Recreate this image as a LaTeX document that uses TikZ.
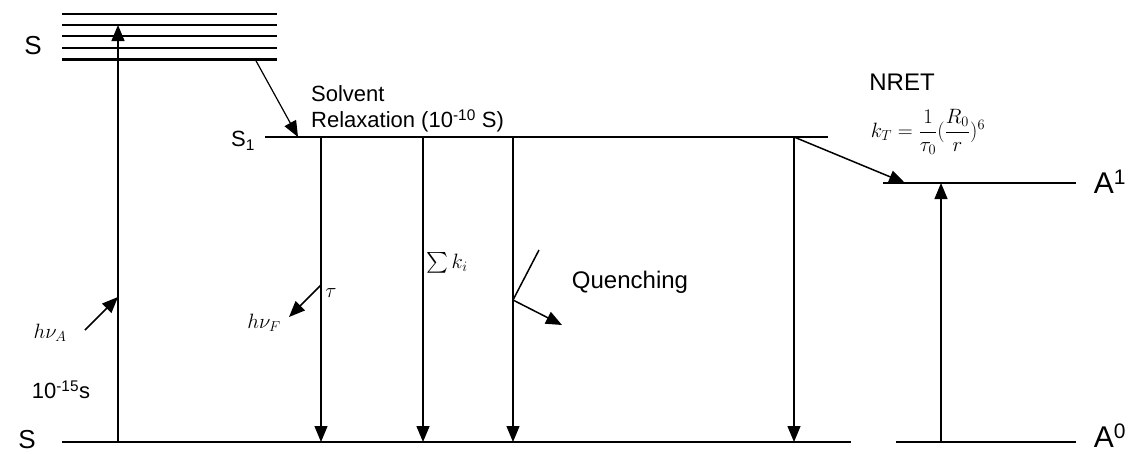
\documentclass[tikz,border=0pt]{standalone}
\usepackage{amsmath}
\usepackage{fontspec}
\setmainfont{Liberation Sans}
\usetikzlibrary{arrows.meta}
\begin{document}
\begin{tikzpicture}[x=1pt,y=-1pt,
  level/.style={line width=1.8pt},
  toplevel/.style={line width=3pt},
  arr/.style={line width=1.5pt,-{Triangle[length=16pt,width=13pt]}},
  thinarr/.style={line width=1.2pt,-{Triangle[length=16pt,width=13pt]}},
  lbl/.style={inner sep=0pt,font=\fontsize{22}{26}\selectfont},
  slbl/.style={inner sep=0pt,font=\fontsize{26}{30}\selectfont},
  biglbl/.style={inner sep=0pt,font=\fontsize{30}{34}\selectfont},
  txt/.style={inner sep=0pt,font=\fontsize{24}{28}\selectfont},
  mth/.style={inner sep=0pt,font=\fontsize{22}{26}\selectfont}]
\useasboundingbox (0,0) rectangle (1134,453);
% upper S levels
\foreach \y/\n in {14/a,25/b,36/c,48/d}{
  \coordinate (u\n L) at (62,\y); \coordinate (u\n R) at (277,\y);
  \draw[level] (u\n L) -- (u\n R);}
\coordinate (ueL) at (62,59); \coordinate (ueR) at (277,59);
\draw[toplevel] (ueL) -- (ueR);
% S1
\coordinate (s1L) at (265,137); \coordinate (s1R) at (828,137);
\draw[level] (s1L) -- (s1R);
% ground
\coordinate (gL) at (62,442); \coordinate (gR) at (851,442);
\draw[level] (gL) -- (gR);
% A1 and A0
\coordinate (a1L) at (883,183); \coordinate (a1R) at (1076,183);
\draw[level] (a1L) -- (a1R);
\coordinate (a0L) at (896,442); \coordinate (a0R) at (1076,442);
\draw[level] (a0L) -- (a0R);
% excitation
\coordinate (exB) at (118,442); \coordinate (exT) at (118,25);
\draw[arr] (exB) -- (exT);
\coordinate (hvaS) at (85,330); \coordinate (hvaE) at (118,297);
\draw[arr] (hvaS) -- (hvaE);
% solvent relaxation
\coordinate (srS) at (255,59); \coordinate (srE) at (298,137);
\draw[thinarr] (srS) -- (srE);
% decays
\foreach \x/\n in {321/f,423/k,513/q,794/n}{
  \coordinate (d\n T) at (\x,137); \coordinate (d\n B) at (\x,442);}
\draw[thinarr] (dfT) -- (dfB);
\draw[arr] (dkT) -- (dkB);
\draw[thinarr] (dqT) -- (dqB);
\draw[thinarr] (dnT) -- (dnB);
% fluorescence photon
\coordinate (tauP) at (321,285); \coordinate (hvfE) at (289,317);
\draw[arr] (tauP) -- (hvfE);
% quenching
\coordinate (qA) at (539,250); \coordinate (qB) at (513,300); \coordinate (qC) at (562,325);
\draw[line width=1.5pt] (qA) -- (qB);
\draw[arr] (qB) -- (qC);
% NRET
\coordinate (nretE) at (905,183);
\draw[arr] (dnT) -- (nretE);
% A1 excitation
\coordinate (aeB) at (941,442); \coordinate (aeT) at (941,183);
\draw[thinarr] (aeB) -- (aeT);
% labels
\node[slbl] (lS) at (33,46) {S};
\node[slbl] (lS0) at (27,440) {S};
\node[lbl] (lS1) at (243,141) {S\textsubscript{1}};
\node[lbl,anchor=west,align=left] (lsol) at (311,109) {Solvent\\Relaxation (10\textsuperscript{-10} S)};
\node[txt] (lnret) at (902,82) {NRET};
\node[mth] (lkt) at (928,132) {$k_T=\dfrac{1}{\tau_0}(\dfrac{R_0}{r})^6$};
\node[biglbl] (lA1) at (1110,182) {A\textsuperscript{1}};
\node[biglbl] (lA0) at (1110,436) {A\textsuperscript{0}};
\node[mth] (lhva) at (50,333) {$h\nu_A$};
\node[lbl] (l15) at (61,390) {10\textsuperscript{-15}s};
\node[mth] (lhvf) at (264,323) {$h\nu_F$};
\node[mth] (ltau) at (331,293) {$\tau$};
\node[mth] (lsum) at (447,263) {$\sum k_i$};
\node[txt] (lq) at (630,282) {Quenching};
\end{tikzpicture}
\end{document}
